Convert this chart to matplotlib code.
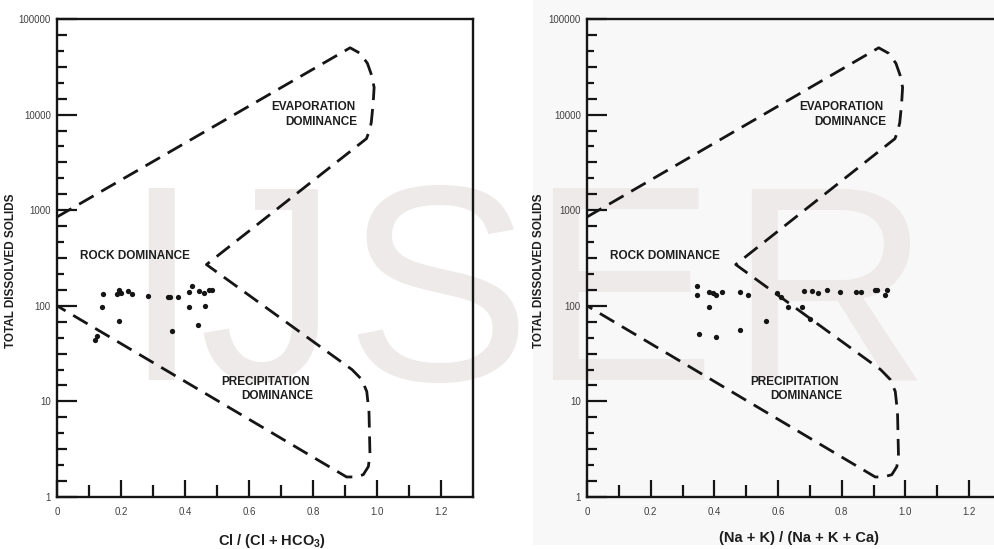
import numpy as np
import matplotlib
matplotlib.use("Agg")
import matplotlib.pyplot as plt
from matplotlib.ticker import FixedLocator, FixedFormatter, NullLocator, NullFormatter
from matplotlib.patches import Rectangle

plt.rcParams['font.family'] = ['Liberation Sans', 'DejaVu Sans']
plt.rcParams['mathtext.fontset'] = 'custom'
plt.rcParams['mathtext.rm'] = 'Liberation Sans'
plt.rcParams['mathtext.bf'] = 'Liberation Sans:bold'

# Gibbs boundary (same for both panels)
bound_x = [0.0, 0.916, 0.947, 0.970, 0.983, 0.991, 0.988, 0.982, 0.975, 0.967,
           0.467, 0.922, 0.952, 0.968, 0.975, 0.978, 0.973, 0.957, 0.931, 0.905, 0.0]
bound_y = [850, 50000, 43800, 34400, 25900, 19300, 13100, 8200, 6600, 5600,
           270, 21.5, 17, 12.7, 7.7, 2.8, 2.08, 1.71, 1.62, 1.62, 100]

# samples, left panel: Cl/(Cl+HCO3) vs TDS
cl_x = [0.119, 0.125, 0.142, 0.145, 0.195, 0.1865, 0.195, 0.201, 0.221, 0.233,
        0.283, 0.346, 0.352, 0.377, 0.359, 0.4125, 0.423, 0.411, 0.441, 0.445,
        0.459, 0.4625, 0.475, 0.484]
cl_tds = [43.9, 48, 96.5, 132, 69.8, 132, 146, 135, 143, 133,
          128, 124, 125, 124, 54, 139, 161, 97, 63.4, 143,
          135, 98.7, 145, 146]

# samples, right panel: (Na+K)/(Na+K+Ca) vs TDS
na_x = [0.3446, 0.3446, 0.383, 0.397, 0.405, 0.423, 0.383, 0.353, 0.405, 0.481,
        0.505, 0.4817, 0.562, 0.598, 0.609, 0.630, 0.676, 0.680, 0.7006, 0.708,
        0.7240, 0.755, 0.794, 0.845, 0.859, 0.905, 0.912, 0.936, 0.9415]
na_tds = [162, 130, 138, 135, 129, 138, 96.5, 51, 46.8, 140.5,
          131, 55.8, 69.8, 135, 123, 98, 98, 143, 72, 143,
          137, 145, 139, 139, 138, 144.8, 146.6, 131, 145]

xtick_vals = [0, 0.2, 0.4, 0.6, 0.8, 1.0, 1.2]
xtick_labels = ['0', '0.2', '0.4', '0.6', '0.8', '1.0', '1.2']
xminor_vals = [0.1, 0.3, 0.5, 0.7, 0.9, 1.1]
ytick_vals = [1, 10, 100, 1000, 10000, 100000]
ytick_labels = ['1', '10', '100', '1000', '10000', '100000']

region_labels = [("EVAPORATION", 0.800, 12000), ("DOMINANCE", 0.827, 8400),
                 ("ROCK DOMINANCE", 0.245, 332),
                 ("PRECIPITATION", 0.652, 16.0), ("DOMINANCE", 0.688, 11.4)]

ink = '#151515'

fig = plt.figure(figsize=(9.95, 5.49), dpi=100)
fig.patches.append(Rectangle((533 / 995, 4 / 549), 1, 1, transform=fig.transFigure,
                             facecolor='#f8f8f8', edgecolor='none', zorder=-3))

# watermark
for ch, cx in zip(['I', 'J', 'S', 'E', 'R'], [161, 268, 437, 622, 829]):
    fig.text(cx / 995, (549 - 380) / 549, ch, fontsize=201, color='#efeaea',
             ha='center', va='baseline', zorder=-2)

odd_minor = [10 ** (d + k / 6) for d in range(5) for k in (1, 3, 5)]
even_minor = [10 ** (d + k / 6) for d in range(5) for k in (2, 4)]


def panel(rect, xs, ys, xlabel, xlab_pos, ylab_x):
    ax = fig.add_axes(rect)
    ax.set_facecolor('none')
    ax.set_yscale('log')
    ax.set_xlim(0, 1.3)
    ax.set_ylim(1, 100000)
    ax.plot(bound_x, bound_y, color=ink, lw=2.0, linestyle=(0, (6, 3.2)),
            solid_capstyle='butt', dash_capstyle='butt')
    ax.plot(xs, ys, 'o', color=ink, ms=3.8, mec='none')
    for t, x, y in region_labels:
        ax.text(x, y, t, ha='center', va='center', fontsize=8.5,
                fontweight='bold', color='#1e1e1e')

    ax.xaxis.set_major_locator(FixedLocator(xtick_vals))
    ax.xaxis.set_major_formatter(FixedFormatter(xtick_labels))
    ax.xaxis.set_minor_locator(FixedLocator(xminor_vals))
    ax.yaxis.set_major_locator(FixedLocator(ytick_vals))
    ax.yaxis.set_major_formatter(FixedFormatter(ytick_labels))
    ax.yaxis.set_minor_locator(FixedLocator(odd_minor))
    ax.yaxis.set_minor_formatter(NullFormatter())
    ax.tick_params(which='both', direction='in', top=False, right=False,
                   colors=ink, labelcolor='#404040', labelsize=7)
    ax.tick_params(axis='x', which='major', length=12, width=1.6, pad=7)
    ax.tick_params(axis='x', which='minor', length=8.5, width=1.6)
    ax.tick_params(axis='y', which='major', length=14.5, width=1.6, pad=4.5)
    ax.tick_params(axis='y', which='minor', length=7.5, width=1.6)
    for s in ax.spines.values():
        s.set_linewidth(1.7)
        s.set_color(ink)

    # shorter intermediate ticks on the left side
    tw = ax.twinx()
    tw.set_yscale('log')
    tw.set_ylim(1, 100000)
    tw.yaxis.set_ticks_position('left')
    tw.yaxis.set_major_locator(FixedLocator(even_minor))
    tw.yaxis.set_major_formatter(NullFormatter())
    tw.yaxis.set_minor_locator(NullLocator())
    tw.yaxis.set_minor_formatter(NullFormatter())
    tw.tick_params(which='both', direction='in', length=5, width=1.6, colors=ink,
                   labelleft=False, labelright=False)
    for s in tw.spines.values():
        s.set_visible(False)

    ax.set_xlabel(xlabel, fontsize=10.5, fontweight='bold', color='#1e1e1e')
    ax.xaxis.set_label_coords(xlab_pos[0], xlab_pos[1])
    ax.set_ylabel('TOTAL DISSOLVED SOLIDS', fontsize=8.5, fontweight='bold',
                  color='#1e1e1e')
    ax.yaxis.set_label_coords(ylab_x, 0.473)
    return ax


panel([57 / 995, 52 / 549, 416 / 995, 478 / 549], cl_x, cl_tds,
      r'Cl / (Cl + HCO$_\mathbf{3}$)', (0.517, -0.074), -0.096)
panel([587 / 995, 52 / 549, 414 / 995, 478 / 549], na_x, na_tds,
      '(Na + K) / (Na + K + Ca)', (0.512, -0.071), -0.101)

fig.savefig('out.png', dpi=100)
